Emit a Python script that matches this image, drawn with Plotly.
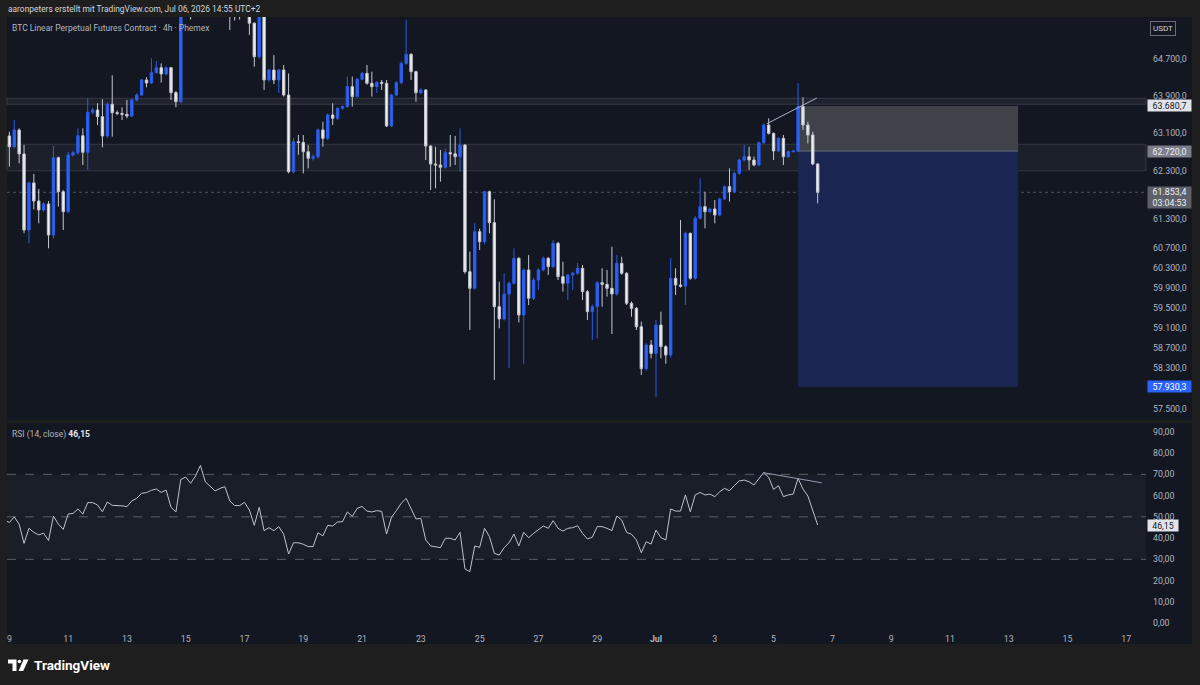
import math
import pandas as pd
import plotly.graph_objects as go

W, H = 1200, 685
def px(x): return x / W
def py(y): return 1 - y / H

# ---------------- data (4h bars, UTC) ----------------
FIRST_BAR = "2026-06-08 20:00"
opens = [
    62980, 63040, 62810, 63166, 62658, 61074, 62050, 61673, 61487, 61611,
    60971, 62580, 61867, 61452, 62637, 62685, 63044, 62693, 63544, 63593,
    63450, 63038, 63716, 63535, 63520, 63500, 63464, 63808, 63915, 64239,
    64174, 64397, 64505, 64368, 64505, 63965, 63771, 65900, 66100, 65850,
    66300, 66900, 66350, 66150, 66000, 66100, 66200, 65700, 65650, 65640,
    65750, 65479, 64745, 65700, 64239, 64455, 64239, 64455, 63915, 62285,
    62917, 62900, 62706, 62567, 62601, 63166, 62989, 63486, 63415, 63630,
    63665, 64095, 63880, 64254, 64383, 64167, 64095, 64189, 64167, 63251,
    63915, 64181, 64600, 64796, 64419, 63965, 64023, 62826, 62447, 62426,
    62377, 62685, 62660, 62601, 62848, 60222, 59886, 61039, 60833, 61867,
    61225, 59516, 59271, 59772, 59987, 60494, 59350, 60257, 59685, 60054,
    60257, 60494, 60324, 60800, 60122, 59987, 60155, 60190, 60291, 59819,
    59417, 59516, 60000, 59966, 59886, 59772, 60392, 60190, 59584, 59483,
    59116, 58287, 58753, 58588, 59150, 58720, 58556, 60088, 59953, 59930,
    61006, 60088, 61315, 61556, 61452, 61508, 61383, 61715, 61971, 61867,
    62250, 62531, 62601, 62531, 62425, 62896, 63272, 63095, 62721, 62989,
    62601, 62706, 62720, 63665, 63272, 63059, 62447,
]
highs = [
    63100, 63130, 63380, 63200, 62848, 62080, 62240, 61923, 61650, 61673,
    62826, 62600, 61900, 62700, 62720, 63202, 63202, 63845, 63640, 63737,
    63823, 63760, 64340, 63580, 63651, 63808, 63830, 63950, 64260, 64300,
    64710, 64650, 64600, 64530, 64520, 64000, 66050, 66300, 66200, 66400,
    67000, 67000, 66500, 66300, 66300, 66350, 66250, 65900, 65800, 65900,
    65800, 65500, 65900, 65750, 64480, 64780, 64480, 64564, 64380, 63000,
    63059, 63059, 62848, 62650, 63200, 63343, 63520, 63737, 63650, 63690,
    64311, 64311, 64280, 64410, 64564, 64419, 64210, 64239, 64239, 63940,
    64210, 64640, 65550, 64820, 64440, 64060, 64040, 62840, 62812, 62742,
    62770, 63059, 63040, 63202, 62860, 60630, 61212, 61100, 61880, 61890,
    61708, 60020, 60190, 60020, 60698, 60520, 60290, 60560, 60100, 60290,
    60530, 60520, 60868, 60830, 60426, 60180, 60220, 60400, 60358, 59850,
    59560, 60030, 60291, 60257, 60731, 60560, 60526, 60210, 59620, 59510,
    59220, 58790, 58852, 59250, 59417, 58750, 60494, 60291, 61280, 61040,
    61020, 61360, 62146, 61867, 61540, 61694, 61740, 62000, 62355, 62280,
    62560, 62848, 62812, 62601, 62920, 63300, 63415, 63110, 63010, 63059,
    62730, 62740, 64167, 63866, 63343, 63130, 62460,
]
lows = [
    62900, 62390, 62790, 62461, 61006, 60800, 61501, 61212, 61450, 60698,
    60900, 61556, 61074, 61420, 62600, 62640, 62425, 62320, 63500, 63272,
    62799, 63000, 63023, 63480, 63379, 63415, 63440, 63780, 63900, 64080,
    64150, 64380, 64181, 64340, 63808, 63651, 63740, 65800, 65560, 65800,
    66250, 66200, 66000, 65900, 65950, 66000, 65330, 65540, 65560, 65620,
    65219, 64526, 64700, 64023, 64200, 64150, 63960, 63880, 62250, 62250,
    62640, 62250, 62355, 62520, 62560, 62812, 62950, 63272, 63380, 63600,
    63640, 63665, 63860, 64230, 64140, 63880, 63960, 64023, 63230, 63230,
    63890, 64150, 64570, 64239, 63771, 63930, 62531, 61902, 61937, 62075,
    62350, 62390, 62425, 62285, 60180, 59051, 59860, 60663, 60780, 61006,
    58065, 59085, 59240, 58300, 59960, 59200, 58384, 59550, 59650, 59850,
    60230, 60155, 60300, 60054, 59819, 59651, 59850, 60160, 59651, 59250,
    58852, 58885, 59516, 59718, 58971, 59740, 60160, 59550, 59316, 59051,
    58163, 58250, 58490, 57740, 58490, 58384, 58500, 59752, 59900, 59550,
    60060, 60060, 61290, 61109, 61420, 61212, 61360, 61690, 61659, 61840,
    62220, 62500, 62320, 62400, 62400, 62870, 63070, 62531, 62700, 62425,
    62580, 62690, 62700, 63166, 62880, 62420, 61624,
]
closes = [
    63040, 62810, 63166, 62658, 61074, 62050, 61673, 61487, 61611, 60971,
    62580, 61867, 61452, 62637, 62685, 63044, 62693, 63544, 63593, 63450,
    63038, 63716, 63535, 63520, 63500, 63464, 63808, 63915, 64239, 64174,
    64397, 64505, 64368, 64505, 63965, 63771, 65900, 66100, 65850, 66300,
    66900, 66350, 66150, 66000, 66100, 66200, 65700, 65650, 65640, 65750,
    65479, 64745, 65700, 64239, 64455, 64239, 64455, 63915, 62285, 62917,
    62900, 62706, 62567, 62601, 63166, 62989, 63486, 63415, 63630, 63665,
    64095, 63880, 64254, 64383, 64167, 64095, 64189, 64167, 63251, 63915,
    64181, 64600, 64796, 64419, 63965, 64023, 62826, 62447, 62426, 62377,
    62685, 62660, 62601, 62848, 60222, 59886, 61039, 60833, 61867, 61225,
    59516, 59271, 59772, 59987, 60494, 59350, 60257, 59685, 60054, 60257,
    60494, 60324, 60800, 60122, 59987, 60155, 60190, 60291, 59819, 59417,
    59516, 60000, 59966, 59886, 59772, 60392, 60190, 59584, 59483, 59116,
    58287, 58753, 58588, 59150, 58720, 58556, 60088, 59953, 59930, 61006,
    60088, 61315, 61556, 61452, 61508, 61383, 61715, 61971, 61867, 62250,
    62531, 62601, 62531, 62425, 62896, 63272, 63095, 62721, 62989, 62601,
    62706, 62720, 63665, 63272, 63059, 62447, 61853.4,
]
rsi = [
    48.5, 47.3, 50.0, 46.5, 37.5, 44.6, 42.7, 41.5, 42.3, 38.8,
    50.4, 46.6, 44.1, 51.3, 51.6, 53.7, 51.3, 56.7, 56.7, 55.6,
    52.4, 57.0, 55.4, 55.4, 55.2, 54.8, 57.5, 58.7, 61.1, 61.4,
    62.5, 63.1, 61.5, 62.6, 54.5, 52.3, 67.6, 68.7, 65.8, 69.2,
    74.2, 66.5, 64.2, 62.2, 63.4, 64.2, 57.5, 55.3, 55.3, 56.8,
    53.2, 46.0, 54.5, 43.5, 44.9, 43.5, 45.4, 41.8, 32.5, 37.8,
    37.8, 37.1, 36.0, 36.0, 42.5, 41.1, 46.0, 45.7, 47.6, 47.7,
    52.3, 50.2, 54.0, 54.9, 52.7, 52.3, 52.9, 52.6, 41.9, 49.8,
    52.9, 56.4, 58.7, 54.0, 49.0, 49.3, 39.1, 36.3, 36.0, 35.5,
    39.9, 39.9, 39.1, 42.7, 25.5, 24.2, 36.3, 35.6, 44.6, 40.7,
    32.8, 32.0, 35.5, 37.8, 41.9, 36.3, 42.7, 40.2, 42.2, 43.8,
    45.7, 44.6, 48.2, 44.6, 43.3, 44.6, 44.9, 45.8, 42.2, 39.6,
    40.4, 45.4, 45.4, 44.6, 43.5, 50.4, 48.5, 42.7, 41.8, 39.1,
    33.1, 38.3, 37.2, 43.8, 40.2, 39.1, 53.7, 52.7, 52.7, 60.3,
    52.4, 60.3, 61.5, 60.3, 60.7, 59.5, 61.8, 63.4, 62.3, 64.7,
    66.9, 67.3, 66.5, 65.0, 68.1, 70.9, 68.6, 62.9, 64.7, 59.5,
    60.3, 60.7, 68.1, 63.1, 59.8, 53.2, 46.15,
]
times = pd.date_range(FIRST_BAR, periods=len(closes), freq="4h")

tick_dates = ["2026-06-09", "2026-06-11", "2026-06-13", "2026-06-15", "2026-06-17",
              "2026-06-19", "2026-06-21", "2026-06-23", "2026-06-25", "2026-06-27",
              "2026-06-29", "2026-07-01", "2026-07-03", "2026-07-05", "2026-07-07",
              "2026-07-09", "2026-07-11", "2026-07-13", "2026-07-15", "2026-07-17"]
tick_labels = ["9", "11", "13", "15", "17", "19", "21", "23", "25", "27", "29",
               "<b>Jul</b>", "3", "5", "7", "9", "11", "13", "15", "17"]
price_ticks = [57500, 58300, 58700, 59100, 59500, 59900, 60300, 60700,
               61300, 62300, 63100, 63900, 64700]
rsi_ticks = [0, 10, 20, 30, 40, 50, 60, 70, 80, 90]

zone_upper = [63716, 63845]
zone_lower = [62305, 62862]
entry_price, stop_price, target_price = 62720.0, 63680.7, 57930.3
last_price = 61853.4
countdown = "03:04:53"
rsi_last = 46.15
pos_times = ["2026-07-05 20:00", "2026-07-13 07:40"]
trend_price_t = ["2026-07-04 18:30", "2026-07-06 11:20"]
trend_price_v = [63300, 63850]
trend_rsi_t = ["2026-07-04 15:40", "2026-07-06 15:20"]
trend_rsi_v = [70.8, 66.0]
x_range = ["2026-06-08 22:05", "2026-07-17 16:05"]
price_range = [57288, 65616]
rsi_range = [-3.25, 94.16]

# ---------------- styling ----------------
OUTER = "#1e1e1e"
BG = "#131722"
TXT = "#b2b5be"
FONT = "Roboto, Inter, sans-serif"
BLUE = "#2962ff"
FS = 8.8

def de(v, d):
    s = f"{v:,.{d}f}"
    return s.replace(",", "X").replace(".", ",").replace("X", ".")

fig = go.Figure()
fig.add_trace(go.Candlestick(
    x=times, open=opens, high=highs, low=lows, close=closes,
    increasing=dict(line=dict(color="#2c5ce8", width=1), fillcolor=BLUE),
    decreasing=dict(line=dict(color="#c4c7cf", width=1), fillcolor="#eef0f4"),
    whiskerwidth=0, hoverinfo="skip", showlegend=False, xaxis="x", yaxis="y"))
fig.add_trace(go.Scatter(x=trend_price_t, y=trend_price_v, mode="lines",
                         line=dict(color="#a7b3cc", width=1), hoverinfo="skip",
                         showlegend=False, xaxis="x", yaxis="y"))
fig.add_trace(go.Scatter(x=times, y=rsi, mode="lines",
                         line=dict(color="#bfc2ca", width=1), hoverinfo="skip",
                         showlegend=False, xaxis="x2", yaxis="y2"))
fig.add_trace(go.Scatter(x=trend_rsi_t, y=trend_rsi_v, mode="lines",
                         line=dict(color="#8e9ab3", width=1), hoverinfo="skip",
                         showlegend=False, xaxis="x2", yaxis="y2"))

shapes = []
# chart frame background
shapes.append(dict(type="rect", xref="paper", yref="paper", x0=px(7), x1=px(1192),
                   y0=py(644), y1=py(17), fillcolor=BG, line=dict(width=0), layer="below"))
# pane separator
shapes.append(dict(type="rect", xref="paper", yref="paper", x0=px(7), x1=px(1192),
                   y0=py(423), y1=py(420), fillcolor=OUTER, line=dict(width=0), layer="below"))
# zones
shapes.append(dict(type="rect", xref="paper", yref="y", x0=px(7), x1=px(1146),
                   y0=zone_lower[0], y1=zone_lower[1], fillcolor="#1c202a",
                   line=dict(color="#343843", width=1), layer="below"))
shapes.append(dict(type="rect", xref="paper", yref="y", x0=px(7), x1=px(1146),
                   y0=zone_upper[0], y1=zone_upper[1], fillcolor="#1f232d",
                   line=dict(color="#353945", width=1), layer="below"))
# position tool
shapes.append(dict(type="rect", xref="x", yref="y", x0=pos_times[0], x1=pos_times[1],
                   y0=entry_price, y1=stop_price, fillcolor="#3f4249",
                   line=dict(width=0), layer="below"))
shapes.append(dict(type="rect", xref="x", yref="y", x0=pos_times[0], x1=pos_times[1],
                   y0=target_price, y1=entry_price, fillcolor="#1a2651",
                   line=dict(width=0), layer="below"))
shapes.append(dict(type="line", xref="x", yref="y", x0=pos_times[0], x1=pos_times[1],
                   y0=entry_price, y1=entry_price, line=dict(color="#6b6e78", width=1),
                   layer="below"))
# last price dotted line
shapes.append(dict(type="line", xref="paper", yref="y", x0=px(7), x1=px(1146),
                   y0=last_price, y1=last_price, line=dict(color="#4b4f5a", width=1, dash="dot"),
                   layer="below"))
# RSI band and levels
shapes.append(dict(type="rect", xref="paper", yref="y2", x0=px(7), x1=px(1146),
                   y0=30, y1=70, fillcolor="#1a1e29", line=dict(width=0), layer="below"))
for lv in (70, 50, 30):
    shapes.append(dict(type="line", xref="paper", yref="y2", x0=px(7), x1=px(1146),
                       y0=lv, y1=lv, line=dict(color="#5a5e69", width=1, dash="dash"),
                       layer="below"))

# TradingView logo glyph
def path(points):
    return "M " + " L ".join(f"{px(a)},{py(b)}" for a, b in points) + " Z"
shapes.append(dict(type="path", xref="paper", yref="paper",
                   path=path([(8, 659.5), (16.5, 659.5), (16.5, 671), (12.5, 671), (12.5, 663.5), (8, 663.5)]),
                   fillcolor="#ffffff", line=dict(width=0)))
shapes.append(dict(type="circle", xref="paper", yref="paper", x0=px(17.6), x1=px(21.2),
                   y0=py(663.3), y1=py(659.7), fillcolor="#ffffff", line=dict(width=0)))
shapes.append(dict(type="path", xref="paper", yref="paper",
                   path=path([(23.5, 659.5), (28.5, 659.5), (23.2, 671), (18.6, 671)]),
                   fillcolor="#ffffff", line=dict(width=0)))

ann = []
ann.append(dict(xref="paper", yref="paper", x=px(6), y=py(9), xanchor="left", yanchor="middle",
                text="aaronpeters erstellt mit TradingView.com, Jul 06, 2026 14:55 UTC+2",
                showarrow=False, font=dict(family=FONT, size=8.4, color="#d1d4dc")))
ann.append(dict(xref="paper", yref="paper", x=px(10), y=py(28), xanchor="left", yanchor="middle",
                text="BTC Linear Perpetual Futures Contract · 4h · Phemex",
                showarrow=False, font=dict(family=FONT, size=8.5, color=TXT)))
ann.append(dict(xref="paper", yref="paper", x=px(10), y=py(434.5), xanchor="left", yanchor="middle",
                text="RSI (14, close) <span style='color:#e6e8ee'><b>" + de(rsi_last, 2) + "</b></span>",
                showarrow=False, font=dict(family=FONT, size=8.5, color=TXT)))
ann.append(dict(xref="paper", yref="paper", x=px(32), y=py(665), xanchor="left", yanchor="middle",
                text="<b>TradingView</b>", showarrow=False,
                font=dict(family=FONT, size=13.5, color="#ffffff")))
# USDT box
ann.append(dict(xref="paper", yref="paper", x=px(1163), y=py(28.5), xanchor="center", yanchor="middle",
                text="USDT", showarrow=False, bordercolor="#6a6d78", borderwidth=1, borderpad=2,
                bgcolor=BG, font=dict(family=FONT, size=8, color="#d1d4dc")))

def axis_label(val, text, bg, fg, ref="y", h=11):
    yv = math.log10(val) if ref == "y" else val
    return dict(xref="paper", yref=ref, x=px(1146.5), y=yv, xanchor="left", yanchor="middle",
                text=text, showarrow=False, bgcolor=bg, width=43, height=h, borderpad=0,
                align="center", font=dict(family=FONT, size=FS, color=fg))

ann.append(axis_label(stop_price, de(stop_price, 1), "#e2e4ea", "#131722"))
ann.append(axis_label(entry_price, de(entry_price, 1), "#7c7f89", "#eef0f4"))
ann.append(axis_label(last_price * 0.9983, de(last_price, 1) + "<br>" + countdown, "#5d606b",
                      "#eef0f4", h=21))
ann.append(axis_label(target_price, de(target_price, 1), BLUE, "#ffffff"))
ann.append(dict(xref="paper", yref="y2", x=px(1146.5), y=rsi_last, xanchor="left", yanchor="middle",
                text=de(rsi_last, 2), showarrow=False, bgcolor="#e2e4ea", width=30, height=11,
                borderpad=0, font=dict(family=FONT, size=FS, color="#131722")))

fig.update_layout(
    width=W, height=H, margin=dict(l=0, r=0, t=0, b=0),
    paper_bgcolor=OUTER, plot_bgcolor="rgba(0,0,0,0)",
    separators=",.", showlegend=False, shapes=shapes, annotations=ann,
    font=dict(family=FONT, color=TXT, size=FS),
    xaxis=dict(domain=[px(7), px(1146)], range=x_range, type="date", anchor="y",
               showgrid=False, zeroline=False, showticklabels=False, showline=False,
               rangeslider=dict(visible=False), fixedrange=True),
    xaxis2=dict(domain=[px(7), px(1146)], range=x_range, type="date", anchor="y2",
                matches="x", showgrid=False, zeroline=False, showline=False,
                tickmode="array", tickvals=tick_dates, ticktext=tick_labels, ticks="",
                ticklabelstandoff=2, tickfont=dict(family=FONT, size=FS, color=TXT)),
    yaxis=dict(domain=[py(420), py(17)], type="log",
               range=[math.log10(price_range[0]), math.log10(price_range[1])],
               side="right", anchor="x", showgrid=False, zeroline=False, showline=False,
               tickmode="array", tickvals=price_ticks, ticktext=[de(v, 1) for v in price_ticks],
               ticks="", ticklabelstandoff=6, tickfont=dict(family=FONT, size=FS, color=TXT)),
    yaxis2=dict(domain=[py(630), py(423)], range=rsi_range, side="right", anchor="x2",
                showgrid=False, zeroline=False, showline=False,
                tickmode="array", tickvals=rsi_ticks, ticktext=[de(v, 2) for v in rsi_ticks],
                ticks="", ticklabelstandoff=6, tickfont=dict(family=FONT, size=FS, color=TXT)),
)

fig.write_html("out.html", config={"displayModeBar": False},
               post_script="document.body.style.margin='0';document.body.style.background='#1e1e1e';")
